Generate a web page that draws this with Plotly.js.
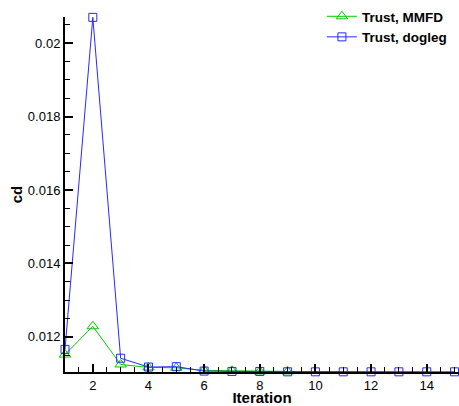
<!DOCTYPE html>
<html>
<head>
<meta charset="utf-8">
<script src="https://cdn.plot.ly/plotly-3.0.1.min.js"></script>
<style>html,body{margin:0;padding:0;background:#fff;}#chart{width:459px;height:406px;}</style>
</head>
<body>
<div id="chart"></div>
<script>
var iterMMFD = [1, 2, 3, 4, 5, 6, 7, 8, 9];
var cdMMFD = [0.01152, 0.01229, 0.01125, 0.01117, 0.01116, 0.01109, 0.01108, 0.01106, 0.01106];
var iterDogleg = [1, 2, 3, 4, 5, 6, 7, 8, 9, 10, 11, 12, 13, 14, 15];
var cdDogleg = [0.01166, 0.0207, 0.01142, 0.01118, 0.01119, 0.01107, 0.01106, 0.01106, 0.01105, 0.01105, 0.01105, 0.01105, 0.01105, 0.01105, 0.01105];
var seriesNames = ["Trust, MMFD", "Trust, dogleg"];

var font = "Liberation Sans, Arial, sans-serif";
var traces = [
  {x: iterMMFD, y: cdMMFD, name: seriesNames[0], mode: "lines+markers",
   line: {color: "rgb(0,204,0)", width: 1},
   marker: {symbol: "triangle-up-open", size: 10, color: "rgb(0,204,0)", line: {width: 1}},
   cliponaxis: false},
  {x: iterDogleg, y: cdDogleg, name: seriesNames[1], mode: "lines+markers",
   line: {color: "rgb(40,40,255)", width: 1},
   marker: {symbol: "square-open", size: 8, color: "rgb(40,40,255)", line: {width: 1}},
   cliponaxis: false}
];
var layout = {
  width: 459, height: 406,
  margin: {l: 65, r: 0, t: 17, b: 34},
  paper_bgcolor: "#fff", plot_bgcolor: "#fff",
  font: {family: font, size: 13, color: "#000"},
  showlegend: true,
  legend: {x: 0.982, xanchor: "right", y: 1.045, yanchor: "top", bgcolor: "rgba(0,0,0,0)",
           font: {family: font, size: 13.5, color: "#000", weight: "bold"}, tracegroupgap: 0},
  xaxis: {range: [1, 15.16], showgrid: false, zeroline: false, showline: true, linewidth: 2, linecolor: "#000",
          ticks: "inside", ticklen: 8, tickwidth: 2, tickcolor: "#000", dtick: 2, tick0: 0,
          minor: {dtick: 0.5, tick0: 0, ticks: "inside", ticklen: 5, tickwidth: 1, tickcolor: "#000"},
          tickfont: {size: 13}, title: {text: "<b>Iteration</b>", font: {size: 15}, standoff: 0}},
  yaxis: {range: [0.011045, 0.02071], showgrid: false, zeroline: false, showline: true, linewidth: 2, linecolor: "#000",
          ticks: "inside", ticklen: 8, tickwidth: 2, tickcolor: "#000", dtick: 0.002, tick0: 0,
          minor: {dtick: 0.0005, tick0: 0, ticks: "inside", ticklen: 5, tickwidth: 1, tickcolor: "#000"},
          tickfont: {size: 13}, title: {text: "<b>cd</b>", font: {size: 15}, standoff: 2}}
};
Plotly.newPlot("chart", traces, layout, {displayModeBar: false, staticPlot: true});
</script>
</body>
</html>
